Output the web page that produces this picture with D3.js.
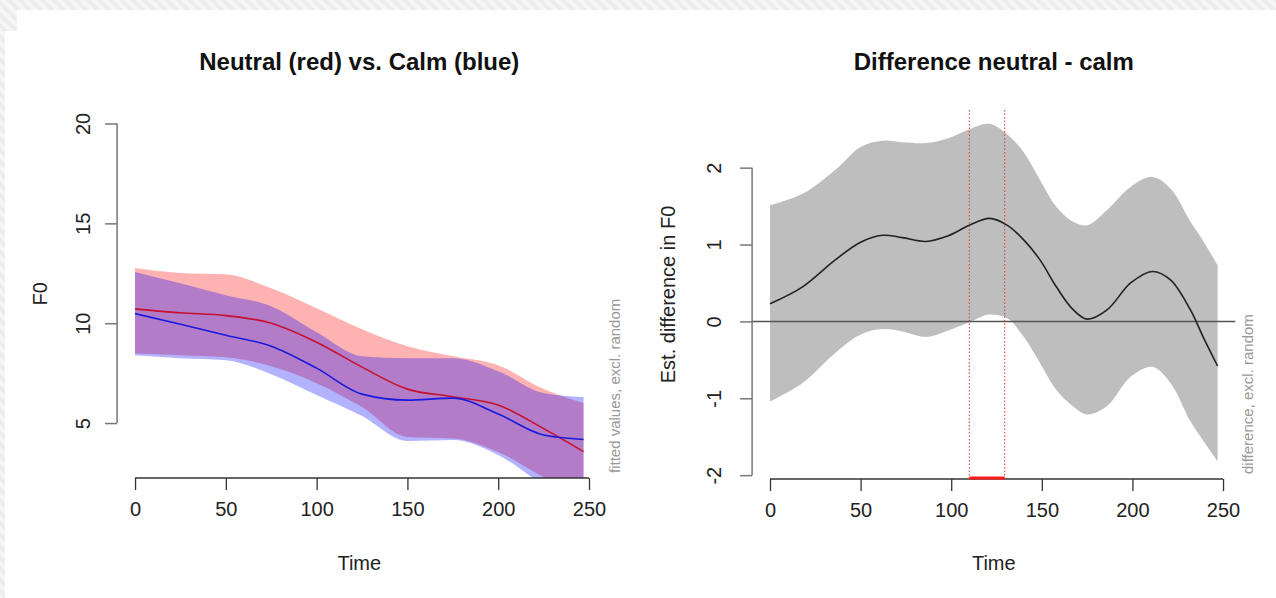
<!DOCTYPE html>
<html>
<head>
<meta charset="utf-8">
<script src="https://cdn.jsdelivr.net/npm/d3@7/dist/d3.min.js"></script>
<style>
  html, body { margin: 0; padding: 0; background: #fff; }
  svg { display: block; font-family: "Liberation Sans", Arial, sans-serif; }
</style>
</head>
<body>
<script>
// --- data ---
const leftTime = [0, 25, 50, 75, 100, 125, 150, 175, 200, 225, 247];
const neutralFit = [10.72, 10.52, 10.38, 10.0, 9.05, 7.8, 6.7, 6.32, 5.9, 4.72, 3.57];
const neutralUpper = [12.75, 12.52, 12.45, 11.75, 10.75, 9.7, 8.85, 8.35, 7.9, 6.7, 6.0];
const neutralLower = [8.48, 8.4, 8.3, 7.85, 7.0, 5.8, 4.3, 4.23, 3.55, 2.3, 1.3];
const calmFit = [10.48, 9.95, 9.4, 8.85, 7.75, 6.45, 6.15, 6.25, 5.45, 4.4, 4.18];
const calmUpper = [12.57, 12.0, 11.4, 10.85, 9.55, 8.35, 8.25, 8.25, 7.6, 6.5, 6.3];
const calmLower = [8.4, 8.25, 8.15, 7.45, 6.4, 5.35, 4.1, 4.15, 3.4, 1.9, 0.8];

const diffTime = [0, 18, 36, 50, 62, 73, 86, 98, 110, 121, 131, 140, 149, 158, 167, 175, 186, 199, 211, 221, 232, 239, 247];
const diffFit = [0.23, 0.45, 0.8, 1.03, 1.12, 1.09, 1.04, 1.11, 1.25, 1.34, 1.25, 1.06, 0.8, 0.45, 0.16, 0.03, 0.15, 0.5, 0.65, 0.54, 0.15, -0.2, -0.58];
const diffUpper = [1.51, 1.66, 1.97, 2.27, 2.35, 2.33, 2.32, 2.38, 2.5, 2.57, 2.43, 2.2, 1.84, 1.49, 1.3, 1.25, 1.45, 1.75, 1.88, 1.73, 1.3, 1.05, 0.73];
const diffLower = [-1.04, -0.8, -0.41, -0.17, -0.1, -0.13, -0.2, -0.12, -0.01, 0.09, 0.04, -0.2, -0.54, -0.89, -1.1, -1.21, -1.1, -0.72, -0.59, -0.8, -1.3, -1.55, -1.82];
const sigWindow = [110, 129.5];

const xTicks = [0, 50, 100, 150, 200, 250];
const leftYTicks = [5, 10, 15, 20];
const rightYTicks = [-2, -1, 0, 1, 2];

const W = 1276, H = 598;

const svg = d3.select("body").append("svg")
  .attr("width", W)
  .attr("height", H);

// striped page background like the screenshot border
const defs = svg.append("defs");
const pat = defs.append("pattern")
  .attr("id", "stripes")
  .attr("width", 8).attr("height", 8)
  .attr("patternUnits", "userSpaceOnUse")
  .attr("patternTransform", "rotate(-45)");
pat.append("rect").attr("width", 8).attr("height", 8).attr("fill", "#ececec");
pat.append("rect").attr("width", 4).attr("height", 8).attr("fill", "#f6f6f6");

svg.append("rect").attr("width", W).attr("height", H).attr("fill", "url(#stripes)");
svg.append("rect").attr("x", 17).attr("y", 10).attr("width", W - 17).attr("height", H - 10).attr("fill", "#fff");
svg.append("rect").attr("x", 5).attr("y", 31).attr("width", 14).attr("height", H - 31).attr("fill", "#fff");

function makePanel(opts) {
  const x = d3.scaleLinear().domain([-9.88, 256.88]).range(opts.xRange);
  const y = d3.scaleLinear().domain(opts.yDomain).range(opts.yRange);
  const g = svg.append("g");

  defs.append("clipPath").attr("id", opts.id + "-clip")
    .append("rect")
    .attr("x", opts.xRange[0]).attr("y", opts.yRange[1])
    .attr("width", opts.xRange[1] - opts.xRange[0])
    .attr("height", opts.yRange[0] - opts.yRange[1]);

  const plot = g.append("g").attr("clip-path", `url(#${opts.id}-clip)`);

  // x axis
  const bottom = opts.yRange[0];
  const xa = g.append("g")
    .attr("transform", `translate(0,${bottom})`)
    .call(d3.axisBottom(x).tickValues(xTicks).tickFormat(d => String(d)).tickSize(12).tickPadding(12));
  xa.select(".domain").remove();
  xa.append("line")
    .attr("x1", x(0)).attr("x2", x(250))
    .attr("stroke", "#333").attr("stroke-width", 1.3);
  xa.selectAll(".tick line").attr("stroke", "#333").attr("stroke-width", 1.3);
  xa.selectAll(".tick text")
    .attr("fill", "#222")
    .attr("font-size", 20)
    .attr("font-family", "Liberation Sans, Arial, sans-serif");

  // y axis
  const left = opts.xRange[0];
  const ya = g.append("g")
    .attr("transform", `translate(${left},0)`)
    .call(d3.axisLeft(y).tickValues(opts.yTicks).tickFormat(d => String(d)).tickSize(12));
  ya.select(".domain").remove();
  ya.append("line")
    .attr("y1", y(d3.min(opts.yTicks))).attr("y2", y(d3.max(opts.yTicks)))
    .attr("stroke", "#777").attr("stroke-width", 1.5);
  ya.selectAll(".tick line").attr("stroke", "#777").attr("stroke-width", 1.5);
  ya.selectAll(".tick text")
    .attr("x", null).attr("dy", "0.35em")
    .attr("text-anchor", "middle")
    .attr("transform", `translate(${opts.yLabOff},0) rotate(-90)`)
    .attr("fill", "#222")
    .attr("font-size", 20)
    .attr("font-family", "Liberation Sans, Arial, sans-serif");

  // titles and labels
  g.append("text")
    .attr("x", (opts.xRange[0] + opts.xRange[1]) / 2).attr("y", 62)
    .attr("dy", "0.35em")
    .attr("text-anchor", "middle")
    .attr("font-size", 24).attr("font-weight", "bold")
    .attr("fill", "#111")
    .text(opts.title);

  g.append("text")
    .attr("x", (opts.xRange[0] + opts.xRange[1]) / 2).attr("y", 563)
    .attr("dy", "0.35em")
    .attr("text-anchor", "middle")
    .attr("font-size", 20).attr("fill", "#222")
    .text("Time");

  g.append("text")
    .attr("transform", `translate(${opts.ylabX},${(opts.yRange[0] + opts.yRange[1]) / 2}) rotate(-90)`)
    .attr("dy", "0.35em")
    .attr("text-anchor", "middle")
    .attr("font-size", 20).attr("fill", "#222")
    .text(opts.ylab);

  g.append("text")
    .attr("transform", `translate(${opts.sideX},${bottom - 5}) rotate(-90)`)
    .attr("dy", "0.35em")
    .attr("text-anchor", "start")
    .attr("font-size", 15).attr("fill", "#999")
    .text(opts.side);

  return { x, y, plot, g };
}

// ---------- left panel ----------
const L = makePanel({
  id: "left",
  xRange: [117.1, 601.5],
  yRange: [478, 109.5],
  yDomain: [2.25, 20.7],
  yTicks: leftYTicks,
  yLabOff: -34,
  title: "Neutral (red) vs. Calm (blue)",
  ylab: "F0",
  ylabX: 40,
  side: "fitted values, excl. random",
  sideX: 615
});

const leftRows = leftTime.map((t, i) => ({
  t, nf: neutralFit[i], nu: neutralUpper[i], nl: neutralLower[i],
  cf: calmFit[i], cu: calmUpper[i], cl: calmLower[i]
}));

const bandN = d3.area().curve(d3.curveMonotoneX)
  .x(d => L.x(d.t)).y0(d => L.y(d.nl)).y1(d => L.y(d.nu));
const bandC = d3.area().curve(d3.curveMonotoneX)
  .x(d => L.x(d.t)).y0(d => L.y(d.cl)).y1(d => L.y(d.cu));

L.plot.append("path").datum(leftRows).attr("d", bandN)
  .attr("fill", "rgba(255,0,0,0.3)");
L.plot.append("path").datum(leftRows).attr("d", bandC)
  .attr("fill", "rgba(0,0,255,0.3)");

L.plot.append("path").datum(leftRows)
  .attr("d", d3.line().curve(d3.curveMonotoneX).x(d => L.x(d.t)).y(d => L.y(d.nf)))
  .attr("fill", "none").attr("stroke", "#c8102e").attr("stroke-width", 1.6);
L.plot.append("path").datum(leftRows)
  .attr("d", d3.line().curve(d3.curveMonotoneX).x(d => L.x(d.t)).y(d => L.y(d.cf)))
  .attr("fill", "none").attr("stroke", "#1a1adc").attr("stroke-width", 1.6);

// ---------- right panel ----------
const R = makePanel({
  id: "right",
  xRange: [752.1, 1235.5],
  yRange: [479, 110],
  yDomain: [-2.05, 2.75],
  yTicks: rightYTicks,
  yLabOff: -38,
  title: "Difference neutral - calm",
  ylab: "Est. difference in F0",
  ylabX: 668,
  side: "difference, excl. random",
  sideX: 1248
});

const diffRows = diffTime.map((t, i) => ({ t, f: diffFit[i], u: diffUpper[i], l: diffLower[i] }));

R.plot.append("path").datum(diffRows)
  .attr("d", d3.area().curve(d3.curveCatmullRom)
    .x(d => R.x(d.t)).y0(d => R.y(d.l)).y1(d => R.y(d.u)))
  .attr("fill", "#bebebe");

R.plot.append("line")
  .attr("x1", 752.1).attr("x2", 1235.5)
  .attr("y1", R.y(0)).attr("y2", R.y(0))
  .attr("stroke", "#555").attr("stroke-width", 1.5);

R.plot.append("path").datum(diffRows)
  .attr("d", d3.line().curve(d3.curveCatmullRom).x(d => R.x(d.t)).y(d => R.y(d.f)))
  .attr("fill", "none").attr("stroke", "#222").attr("stroke-width", 1.6);

// significant window
R.g.selectAll(".sig").data(sigWindow).join("line")
  .attr("class", "sig")
  .attr("x1", d => R.x(d)).attr("x2", d => R.x(d))
  .attr("y1", 110).attr("y2", 479)
  .attr("stroke", "#e83030").attr("stroke-width", 1)
  .attr("stroke-dasharray", "1.5,2");

R.g.append("line")
  .attr("x1", R.x(sigWindow[0])).attr("x2", R.x(sigWindow[1]))
  .attr("y1", 478).attr("y2", 478)
  .attr("stroke", "#ff1a1a").attr("stroke-width", 3);
</script>
</body>
</html>
